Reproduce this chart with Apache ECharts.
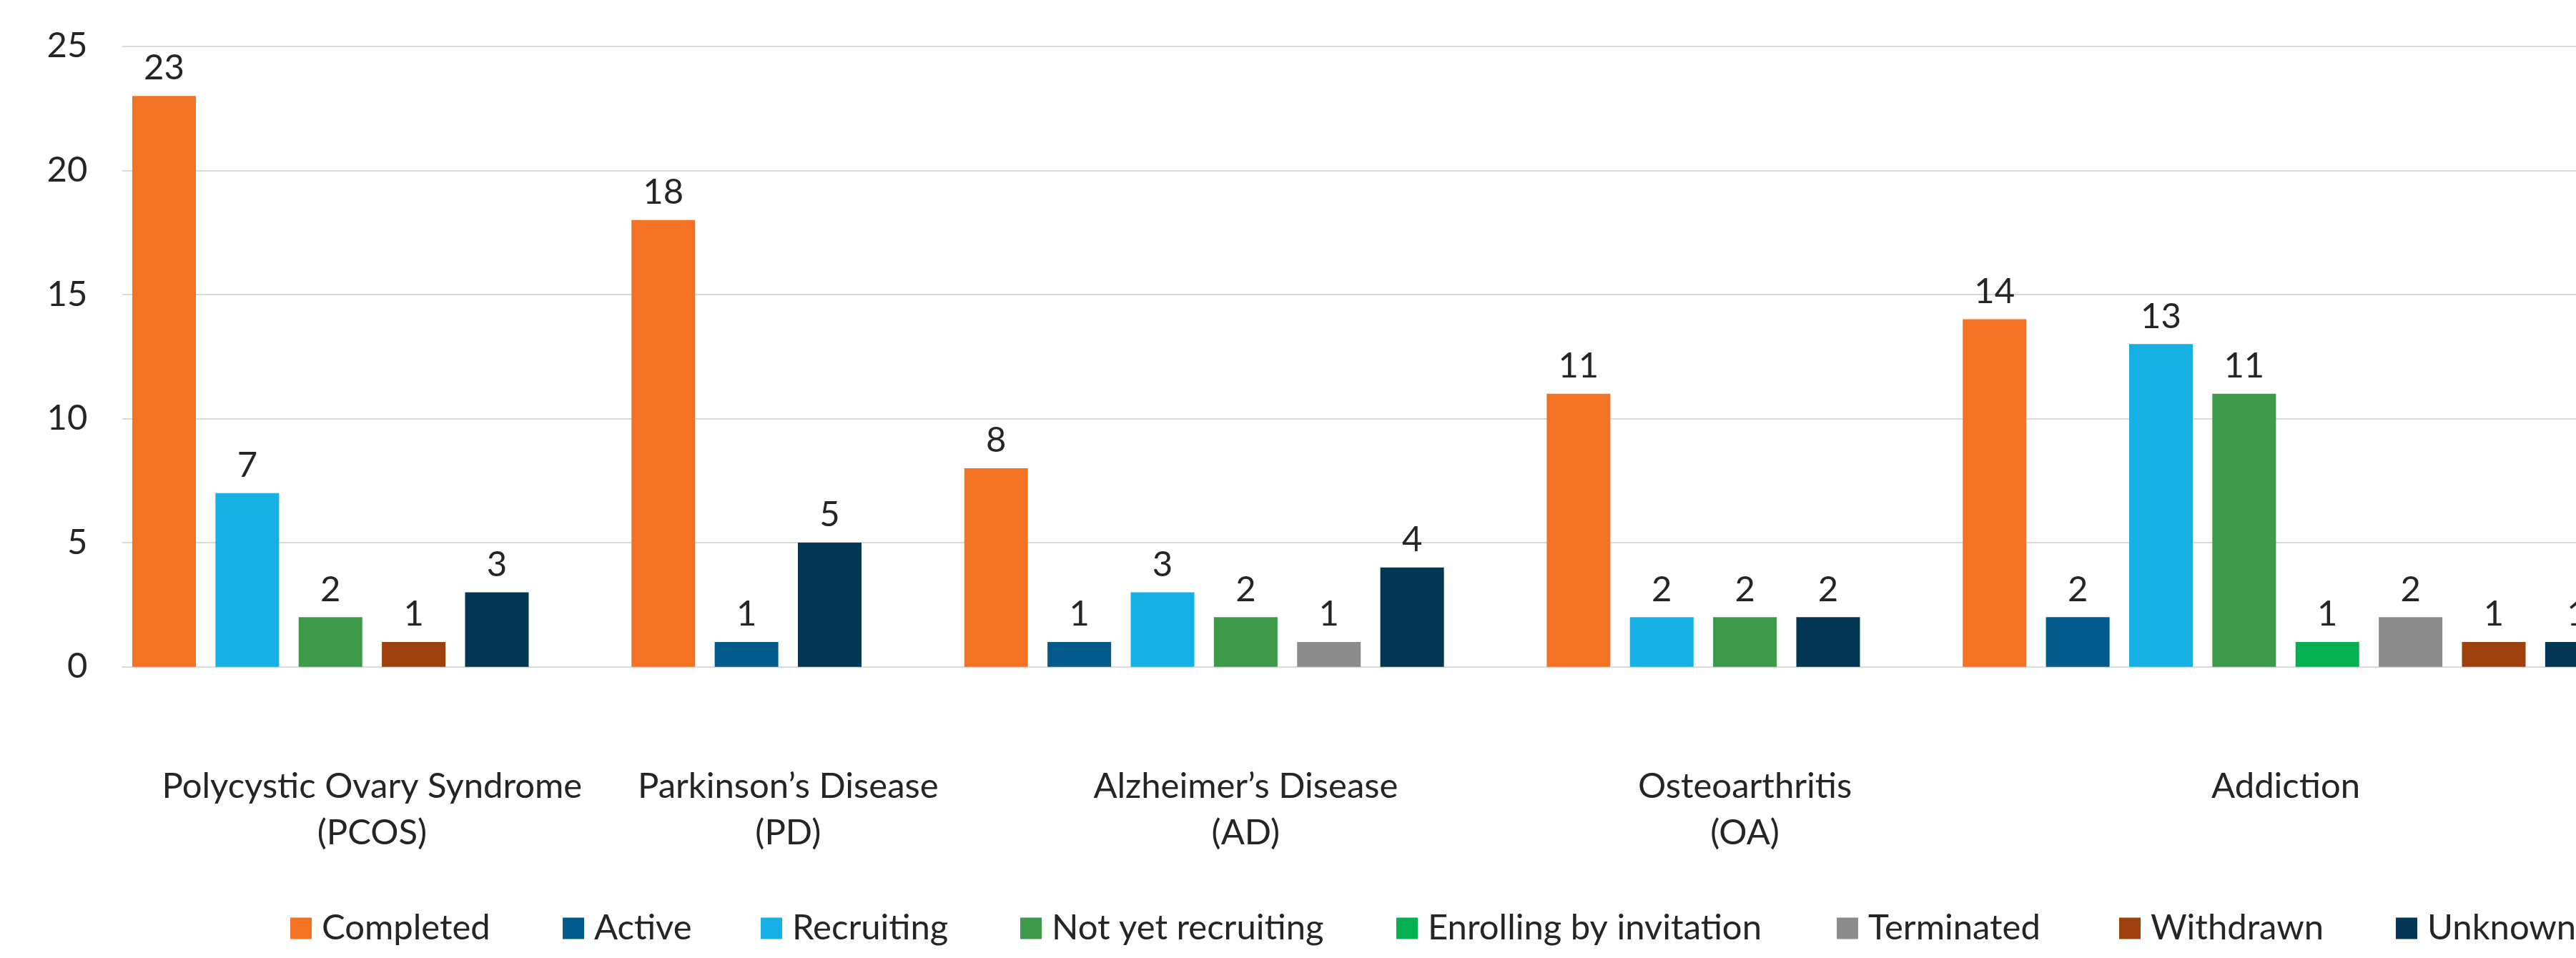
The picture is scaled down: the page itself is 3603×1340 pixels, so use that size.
<!DOCTYPE html>
<html>
<head>
<meta charset="utf-8">
<style>
  html, body { margin: 0; padding: 0; background: #ffffff; overflow: hidden; }
  #chart { width: 3700px; height: 1340px; }
</style>
<script src="https://cdn.jsdelivr.net/npm/echarts@6/dist/echarts.min.js"></script>
</head>
<body>
<div id="chart"></div>
<script>
// ---- Data ----
const categories = [
  'Polycystic Ovary Syndrome\n(PCOS)',
  'Parkinson\u2019s Disease\n(PD)',
  'Alzheimer\u2019s Disease\n(AD)',
  'Osteoarthritis\n(OA)',
  'Addiction'
];
const statuses = ['Completed', 'Active', 'Recruiting', 'Not yet recruiting',
  'Enrolling by invitation', 'Terminated', 'Withdrawn', 'Unknown'];
// values per category (0 = no bar)
const completed        = [23, 18, 8, 11, 14];
const active           = [0, 1, 1, 0, 2];
const recruiting       = [7, 0, 3, 2, 13];
const notYetRecruiting = [2, 0, 2, 2, 11];
const enrolling        = [0, 0, 0, 0, 1];
const terminated       = [0, 0, 1, 0, 2];
const withdrawn        = [1, 0, 0, 0, 1];
const unknown          = [3, 5, 4, 2, 1];
const yTicks = [0, 5, 10, 15, 20, 25];

// ---- Styles / layout ----
const colors = ['#F37224', '#025A8A', '#17B0E4', '#3D9A4A', '#05B050', '#8C8C8C', '#9E400C', '#033652'];
const legendLefts = [406, 787, 1064, 1427, 1953, 2569, 2964, 3351];
const FONT = 'Lato';
const TXT = '#252525';
const SLOT = 116.375;

// ---- Build slot layout (each group: its non-zero bars, then an empty slot) ----
const valueArrays = [completed, active, recruiting, notYetRecruiting, enrolling, terminated, withdrawn, unknown];
const slots = [];
const slotStatus = [];
const slotValue = [];
const groupRanges = [];
categories.forEach((cat, gi) => {
  const start = slots.length;
  valueArrays.forEach((arr, si) => {
    if (arr[gi] > 0) {
      slots.push(gi + '_' + si);
      slotStatus.push(si);
      slotValue.push(arr[gi]);
    }
  });
  if (gi < categories.length - 1) {
    slots.push(gi + '_gap');
    slotStatus.push(-1);
    slotValue.push(null);
  }
  groupRanges.push([start, slots.length - 1]);
});

const series = statuses.map((name, si) => ({
  name: name,
  type: 'bar',
  barWidth: 89,
  barGap: '-100%',
  itemStyle: { color: colors[si] },
  label: {
    show: true,
    position: 'top',
    distance: 14,
    fontFamily: FONT,
    fontSize: 49,
    lineHeight: 49,
    color: TXT
  },
  data: slots.map((s, i) => slotStatus[i] === si ? slotValue[i] : '-')
}));

const legends = statuses.map((name, i) => ({
  data: [name],
  left: legendLefts[i],
  top: 1274,
  itemWidth: 30,
  itemHeight: 30,
  icon: 'rect',
  padding: 0,
  textStyle: { fontFamily: FONT, fontSize: 49, color: TXT, padding: [0, 0, 0, 9] }
}));

const chart = echarts.init(document.getElementById('chart'), null, { renderer: 'canvas' });
const option = {
  animation: false,
  backgroundColor: '#ffffff',
  grid: { left: 171.3, top: 64.7, width: slots.length * SLOT, height: 868, containLabel: false },
  xAxis: {
    type: 'category',
    data: slots,
    axisLine: { show: true, lineStyle: { color: '#D9D9D9', width: 2 } },
    axisTick: { show: false },
    axisLabel: { show: false },
    splitLine: { show: false }
  },
  yAxis: {
    type: 'value',
    min: yTicks[0],
    max: yTicks[yTicks.length - 1],
    interval: 5,
    axisLine: { show: false },
    axisTick: { show: false },
    axisLabel: { fontFamily: FONT, fontSize: 49, color: TXT, margin: 49 },
    splitLine: { show: true, lineStyle: { color: '#D9D9D9', width: 2 } }
  },
  legend: legends,
  series: series
};
chart.setOption(option);

// Group labels centred under each group's slots
const graphics = categories.map((cat, gi) => {
  const r = groupRanges[gi];
  const x0 = chart.convertToPixel({ xAxisIndex: 0 }, r[0]) - SLOT / 2;
  const x1 = chart.convertToPixel({ xAxisIndex: 0 }, r[1]) + SLOT / 2;
  return {
    type: 'text',
    x: (x0 + x1) / 2,
    y: 1068,
    style: {
      text: cat,
      fontFamily: FONT,
      fontSize: 49,
      lineHeight: 65,
      fill: TXT,
      align: 'center',
      verticalAlign: 'top'
    }
  };
});
chart.setOption({ graphic: graphics });
</script>
</body>
</html>
